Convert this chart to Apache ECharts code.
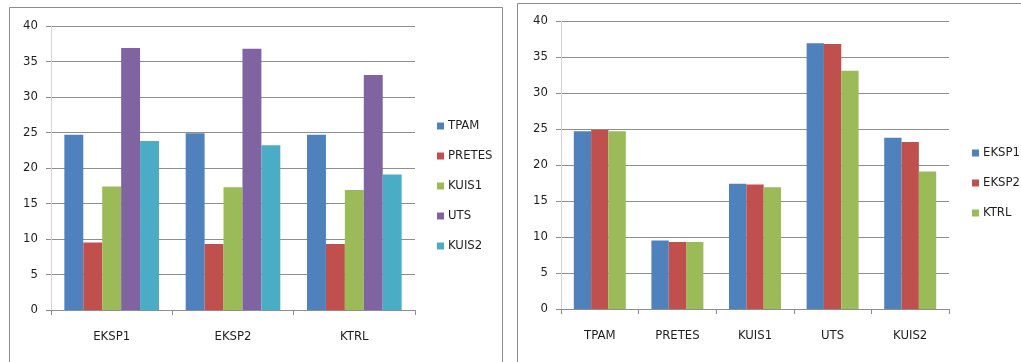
<!DOCTYPE html>
<html>
<head>
<meta charset="utf-8">
<script src="https://cdn.jsdelivr.net/npm/echarts@6/dist/echarts.min.js"></script>
<style>
  html, body { margin: 0; padding: 0; background: #ffffff; }
  #chart { width: 1021px; height: 362px; }
</style>
</head>
<body>
<div id="chart"></div>
<script>
// Mean scores per group (EKSP1, EKSP2, KTRL) for each assessment
const groups = ['EKSP1', 'EKSP2', 'KTRL'];
const tests = ['TPAM', 'PRETES', 'KUIS1', 'UTS', 'KUIS2'];
const tpam   = [24.7, 24.9, 24.7];
const pretes = [9.5, 9.3, 9.3];
const kuis1  = [17.4, 17.3, 16.9];
const uts    = [36.9, 36.8, 33.1];
const kuis2  = [23.8, 23.2, 19.1];
const yTicks = [0, 5, 10, 15, 20, 25, 30, 35, 40];

const testColors = ['#4F81BD', '#C0504D', '#9BBB59', '#8064A2', '#4BACC6'];
const groupColors = ['#4F81BD', '#C0504D', '#9BBB59'];

const byTest = [tpam, pretes, kuis1, uts, kuis2];
// same figures transposed: one series per group, one value per test
const byGroup = groups.map((g, gi) => byTest.map(arr => arr[gi]));

const FONT = "'Liberation Sans Narrow', 'DejaVu Sans Condensed', 'Liberation Sans', sans-serif";
const TXT = '#1f1f1f';
const GRID = '#8e8e8e';

function yAxis(gridIndex) {
  return {
    type: 'value', gridIndex,
    min: yTicks[0], max: yTicks[yTicks.length - 1], interval: yTicks[1] - yTicks[0],
    axisLine: { show: true, lineStyle: { color: '#d4d4d4', width: 1 } },
    axisTick: { show: true, length: 5, lineStyle: { color: GRID } },
    axisLabel: { color: TXT, fontFamily: FONT, fontSize: 13, margin: 13 },
    splitLine: { show: true, lineStyle: { color: GRID, width: 1 } }
  };
}
function xAxis(gridIndex, cats) {
  return {
    type: 'category', gridIndex, data: cats,
    axisLine: { show: true, lineStyle: { color: GRID, width: 1 } },
    axisTick: { show: true, length: 5, alignWithLabel: false, lineStyle: { color: GRID } },
    axisLabel: { color: TXT, fontFamily: FONT, fontSize: 13, margin: 20 }
  };
}

const series = [];
tests.forEach((t, i) => series.push({
  name: t, type: 'bar', xAxisIndex: 0, yAxisIndex: 0,
  data: byTest[i], itemStyle: { color: testColors[i] },
  barGap: '0%', barCategoryGap: '22%'
}));
groups.forEach((g, i) => series.push({
  name: g, type: 'bar', xAxisIndex: 1, yAxisIndex: 1,
  data: byGroup[i], itemStyle: { color: groupColors[i] },
  barGap: '0%', barCategoryGap: '33%'
}));

const legendText = { color: TXT, fontFamily: FONT, fontSize: 13, lineHeight: 14, padding: [0, 0, 0, -1] };

const chart = echarts.init(document.getElementById('chart'), null, { renderer: 'canvas' });
chart.setOption({
  animation: false,
  backgroundColor: '#ffffff',
  graphic: [
    { type: 'rect', shape: { x: 9.5, y: 7.5, width: 493, height: 380 },
      style: { fill: 'none', stroke: '#8c8c8c', lineWidth: 1 }, silent: true, z: -10 },
    { type: 'rect', shape: { x: 517.5, y: 3.5, width: 520, height: 380 },
      style: { fill: 'none', stroke: '#8c8c8c', lineWidth: 1 }, silent: true, z: -10 }
  ],
  grid: [
    { left: 51, top: 26, width: 364, height: 284, containLabel: false },
    { left: 561, top: 21, width: 388, height: 288, containLabel: false }
  ],
  xAxis: [xAxis(0, groups), xAxis(1, tests)],
  yAxis: [yAxis(0), yAxis(1)],
  legend: [
    { data: tests, orient: 'vertical', left: 437, top: 119, padding: 0,
      itemWidth: 7, itemHeight: 7, itemGap: 16, icon: 'rect', textStyle: legendText },
    { data: groups, orient: 'vertical', left: 972, top: 146, padding: 0,
      itemWidth: 7, itemHeight: 7, itemGap: 16, icon: 'rect', textStyle: legendText }
  ],
  series
});
</script>
</body>
</html>
